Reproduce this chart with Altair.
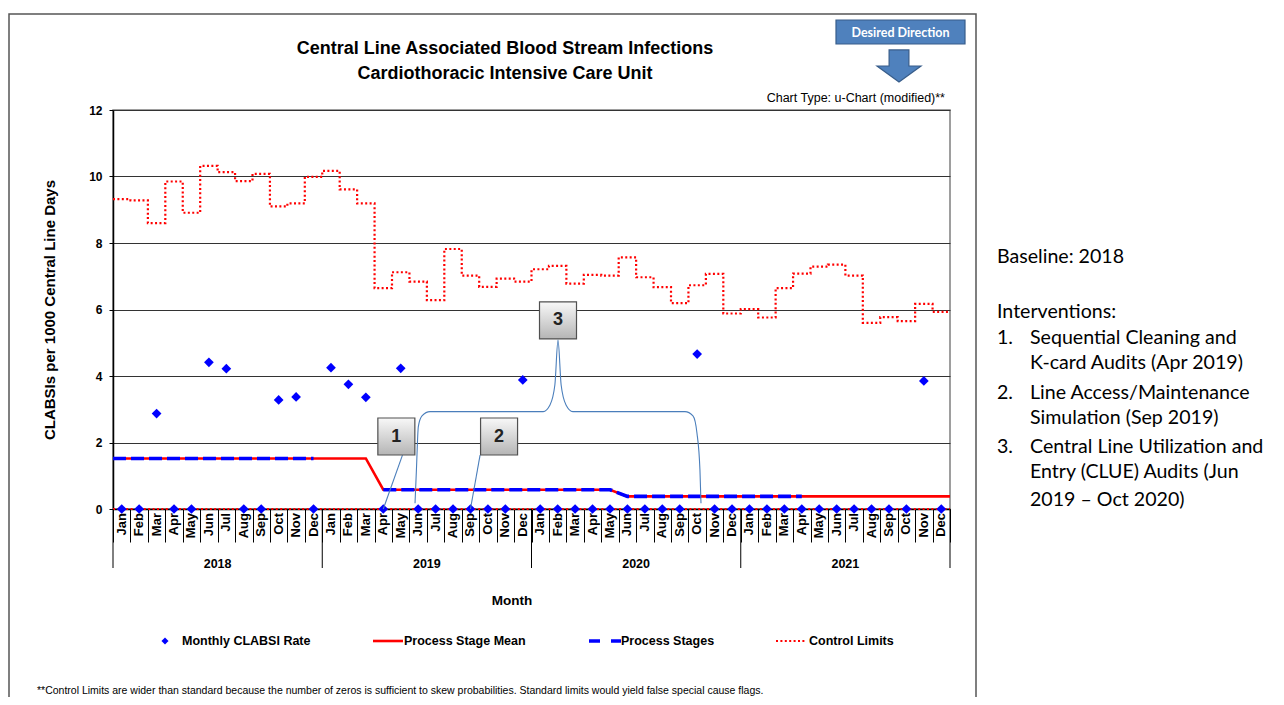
import altair as alt
import pandas as pd

# ---------------- data ----------------
month_names = ["Jan", "Feb", "Mar", "Apr", "May", "Jun",
               "Jul", "Aug", "Sep", "Oct", "Nov", "Dec"]
years = ["2018", "2019", "2020", "2021"]

clabsi_rate = [
    0, 0, 2.87, 0, 0, 4.41, 4.22, 0, 0, 3.28, 3.37, 0,
    4.25, 3.75, 3.36, 0, 4.23, 0, 0, 0, 0, 0, 0, 3.88,
    0, 0, 0, 0, 0, 0, 0, 0, 0, 4.66, 0, 0,
    0, 0, 0, 0, 0, 0, 0, 0, 0, 0, 3.85, 0,
]
control_limit = [
    9.32, 9.28, 8.60, 9.85, 8.91, 10.32, 10.13, 9.86, 10.08, 9.10, 9.19, 9.99,
    10.17, 9.61, 9.19, 6.64, 7.12, 6.84, 6.28, 7.82, 7.02, 6.68, 6.93, 6.84,
    7.21, 7.31, 6.78, 7.04, 7.02, 7.57, 6.97, 6.67, 6.19, 6.73, 7.07, 5.88,
    6.01, 5.76, 6.64, 7.08, 7.29, 7.35, 7.02, 5.60, 5.77, 5.65, 6.17, 5.93,
]
lower_control_limit = 0.0
stage_mean = [
    1.52, 1.52, 1.52, 1.52, 1.52, 1.52, 1.52, 1.52, 1.52, 1.52, 1.52, 1.52,
    1.52, 1.52, 1.52, 0.58, 0.58, 0.58, 0.58, 0.58, 0.58, 0.58, 0.58, 0.58,
    0.58, 0.58, 0.58, 0.58, 0.58, 0.38, 0.38, 0.38, 0.38, 0.38, 0.38, 0.38,
    0.38, 0.38, 0.38, 0.38, 0.38, 0.38, 0.38, 0.38, 0.38, 0.38, 0.38, 0.38,
]
process_stage = [
    1.52, 1.52, 1.52, 1.52, 1.52, 1.52, 1.52, 1.52, 1.52, 1.52, 1.52, 1.52,
    None, None, None, 0.58, 0.58, 0.58, 0.58, 0.58, 0.58, 0.58, 0.58, 0.58,
    0.58, 0.58, 0.58, 0.58, 0.58, 0.38, 0.38, 0.38, 0.38, 0.38, 0.38, 0.38,
    0.38, 0.38, 0.38, 0.38, None, None, None, None, None, None, None, None,
]

# call-out annotations (data units: month index, rate)
callout_labels = ["1", "2", "3"]
callout_x = [16.25, 22.14, 25.52]
callout_y = [2.18, 2.18, 5.67]
leader_id = [1, 1, 2, 2]
leader_x = [16.6, 15.5, 21.05, 20.5]
leader_y = [1.62, 0.0, 1.62, 0.0]
brace_x = [17.32, 17.40, 17.51, 17.72, 18.18, 24.67, 25.06, 25.34, 25.52,
           25.70, 25.98, 26.37, 32.80, 33.26, 33.49, 33.66, 33.72]
brace_y = [0.17, 1.17, 2.48, 2.80, 2.93, 2.93, 3.13, 3.73, 5.08,
           3.73, 3.13, 2.93, 2.93, 2.80, 2.28, 1.17, 0.17]

# texts
title_lines = ["Central Line Associated Blood Stream Infections",
               "Cardiothoracic Intensive Care Unit"]
chart_type_text = "Chart Type: u-Chart (modified)**"
direction_text = "Desired Direction"
y_title = "CLABSIs per 1000 Central Line Days"
x_title = "Month"
legend_labels = ["Monthly CLABSI Rate", "Process Stage Mean",
                 "Process Stages", "Control Limits"]
footnote = ("**Control Limits are wider than standard because the number of zeros is "
            "sufficient to skew probabilities. Standard limits would yield false special cause flags.")
side_baseline = "Baseline: 2018"
side_heading = "Interventions:"
side_numbers = ["1.", "2.", "3."]
side_items = [
    ["Sequential Cleaning and", "K-card Audits (Apr 2019)"],
    ["Line Access/Maintenance", "Simulation (Sep 2019)"],
    ["Central Line Utilization and", "Entry (CLUE) Audits (Jun", "2019 \u2013 Oct 2020)"],
]

# ---------------- tables ----------------
n = len(clabsi_rate)
months = [month_names[i % 12] for i in range(n)]
centers = [i + 0.5 for i in range(n)]

df_rate = pd.DataFrame({"x": centers, "rate": clabsi_rate, "month": months})
df_ucl = pd.DataFrame({"x": list(range(n)) + [n],
                       "v": control_limit + [control_limit[-1]]})
df_lcl = pd.DataFrame({"x": [0, n], "v": [lower_control_limit, lower_control_limit]})
df_mean = pd.DataFrame({"x": [0] + centers + [n],
                        "v": [stage_mean[0]] + stage_mean + [stage_mean[-1]]})
rows = []
seg = 0
prev = None
for i, v in enumerate(process_stage):
    if v is None:
        prev = None
        continue
    if prev is None:
        seg += 1
        if i == 0:
            rows.append({"x": 0, "v": v, "seg": seg})
    rows.append({"x": i + 0.5, "v": v, "seg": seg})
    prev = v
df_stage = pd.DataFrame(rows)
df_years = pd.DataFrame({"x": [12 * k + 6 for k in range(len(years))], "year": years})
df_ybounds = pd.DataFrame({"x": [12 * k for k in range(len(years) + 1)]})
df_callout = pd.DataFrame({"x": callout_x, "y": callout_y, "label": callout_labels})
df_leader = pd.DataFrame({"id": leader_id, "x": leader_x, "y": leader_y})
df_brace = pd.DataFrame({"x": brace_x, "y": brace_y, "o": list(range(len(brace_x)))})

# ---------------- layout ----------------
W, H = 837, 399
X0, Y0 = 113, 110          # page position of the plot origin
FONT = "Liberation Sans"
SIDE_FONT = "Lato"
RED = "#ff0000"
BLUE = "#0000ff"
LINK = "#4a7ebb"

xscale = alt.Scale(domain=[0, n], nice=False, zero=False)
yscale = alt.Scale(domain=[0, 12], nice=False)
xaxis = alt.Axis(values=list(range(n + 1)), labels=False, tickSize=33, tickColor="black",
                 tickWidth=1, domainColor="black", domainWidth=1.5, grid=False, title=None)
yaxis = alt.Axis(values=[0, 2, 4, 6, 8, 10, 12], grid=True, gridColor="#333333", gridWidth=1.2,
                 tickSize=4, tickColor="black", domainColor="black", domainWidth=1.5,
                 labelFont=FONT, labelFontSize=12, labelFontWeight="bold", labelColor="black",
                 labelPadding=7, format="d", title=None)


def X(field):
    return alt.X(field, type="quantitative", scale=xscale, axis=xaxis)


def Y(field):
    return alt.Y(field, type="quantitative", scale=yscale, axis=yaxis)


one = pd.DataFrame({"k": [0]})


def label(text, x, y, size, weight="normal", align="left", baseline="alphabetic",
          font=FONT, color="black", angle=None):
    kw = dict(text=text, align=align, baseline=baseline, fontSize=size,
              fontWeight=weight, font=font, color=color)
    if angle is not None:
        kw["angle"] = angle
    return alt.Chart(one).mark_text(**kw).encode(x=alt.value(x - X0), y=alt.value(y - Y0))


def rule(x1, x2, y1, y2, color, width, dash=None):
    kw = dict(color=color, strokeWidth=width)
    if dash is not None:
        kw["strokeDash"] = dash
    return alt.Chart(one).mark_rule(**kw).encode(
        x=alt.value(x1 - X0), x2=alt.value(x2 - X0), y=alt.value(y1 - Y0), y2=alt.value(y2 - Y0))


layers = []

# frame around the whole figure
layers.append(alt.Chart(one).mark_rect(fill="white", fillOpacity=0, stroke="#555555", strokeWidth=1.5).encode(
    x=alt.value(9 - X0), x2=alt.value(976 - X0), y=alt.value(14 - Y0), y2=alt.value(760 - Y0)))

# data layers
layers.append(alt.Chart(df_ucl).mark_line(interpolate="step-after", color=RED, strokeWidth=2.2,
                                          strokeDash=[2, 2.4]).encode(x=X("x"), y=Y("v")))
layers.append(alt.Chart(df_lcl).mark_line(color=RED, strokeWidth=2.2, strokeDash=[2, 2.4]).encode(
    x=X("x"), y=Y("v")))
layers.append(alt.Chart(df_mean).mark_line(color=RED, strokeWidth=2.6).encode(x=X("x"), y=Y("v")))
layers.append(alt.Chart(df_stage).mark_line(color=BLUE, strokeWidth=3.6, strokeDash=[13, 5]).encode(
    x=X("x"), y=Y("v"), detail="seg:N"))
layers.append(alt.Chart(df_rate).mark_point(shape="diamond", filled=True, size=95, color=BLUE,
                                            opacity=1).encode(x=X("x"), y=Y("rate")))

# call-outs
layers.append(alt.Chart(df_leader).mark_line(color=LINK, strokeWidth=1.1).encode(
    x=X("x"), y=Y("y"), detail="id:N"))
layers.append(alt.Chart(df_brace).mark_line(color=LINK, strokeWidth=1.1, interpolate="monotone").encode(
    x=X("x"), y=Y("y"), order="o:Q"))
box_fill = alt.LinearGradient(gradient="linear",
                              stops=[alt.GradientStop(color="#f8f8f8", offset=0),
                                     alt.GradientStop(color="#b5b5b5", offset=1)],
                              x1=0, x2=0, y1=0, y2=1)
layers.append(alt.Chart(df_callout).mark_point(shape="square", size=37 * 37, filled=True, fill="#9a9a9a",
                                               opacity=0.5, dx=2, dy=2).encode(x=X("x"), y=Y("y")))
layers.append(alt.Chart(df_callout).mark_point(shape="square", size=37 * 37, filled=True, fill=box_fill,
                                               stroke="#505050", strokeWidth=1.2, opacity=1).encode(
    x=X("x"), y=Y("y")))
layers.append(alt.Chart(df_callout).mark_text(font=FONT, fontSize=18, fontWeight="bold", color="#222222",
                                              baseline="middle").encode(x=X("x"), y=Y("y"), text="label:N"))

# month / year axis labels
layers.append(alt.Chart(df_rate).mark_text(font=FONT, fontSize=13, fontWeight="bold", angle=270,
                                           align="right", baseline="middle", color="black").encode(
    x=X("x"), y=alt.value(513 - Y0), text="month:N"))
layers.append(alt.Chart(df_ybounds).mark_rule(color="black", strokeWidth=1).encode(
    x=X("x"), y=alt.value(H), y2=alt.value(568 - Y0)))
layers.append(alt.Chart(df_years).mark_text(font=FONT, fontSize=12.5, fontWeight="bold", color="black").encode(
    x=X("x"), y=alt.value(564 - Y0), text="year:N"))

# titles
layers.append(label(title_lines[0], 505, 54, 18, "bold", "center"))
layers.append(label(title_lines[1], 505, 79, 18, "bold", "center"))
layers.append(label(chart_type_text, 945, 102, 12.5, "normal", "right"))
layers.append(label(y_title, 50, 310, 15, "bold", "center", "middle", angle=270))
layers.append(label(x_title, 512, 605, 13.5, "bold", "center"))

# desired direction marker
layers.append(alt.Chart(one).mark_rect(fill="#4f81bd", stroke="#385d8a", strokeWidth=1.2).encode(
    x=alt.value(836 - X0), x2=alt.value(965 - X0), y=alt.value(20 - Y0), y2=alt.value(44 - Y0)))
layers.append(label(direction_text, 900.5, 32.5, 12.5, "bold", "center", "middle", SIDE_FONT, "white"))
layers.append(alt.Chart(one).mark_point(shape="M-0.45,-0.73L0.45,-0.73L0.45,0L1,0L0,0.73L-1,0L-0.45,0Z",
                                        size=44 * 44, filled=True, fill="#4f81bd", stroke="#385d8a",
                                        strokeWidth=1.2, opacity=1).encode(
    x=alt.value(899 - X0), y=alt.value(66 - Y0)))

# legend
LY = 641
layers.append(alt.Chart(one).mark_point(shape="diamond", filled=True, size=50, color=BLUE, opacity=1).encode(
    x=alt.value(165 - X0), y=alt.value(LY - Y0)))
layers.append(rule(373, 403, LY, LY, RED, 2.6))
layers.append(rule(589, 621, LY, LY, BLUE, 3.6, [11, 11]))
layers.append(rule(776, 805, LY, LY, RED, 2.2, [2, 2.4]))
for txt, lx in zip(legend_labels, [182, 404, 621, 809]):
    layers.append(label(txt, lx, LY, 12.5, "bold", "left", "middle"))

# footnote
layers.append(label(footnote, 37, 694, 10.5, "normal", "left"))

# right-hand notes
SIDE_SIZE = 19.6
NUM_X, TXT_X = 997, 1030
layers.append(label(side_baseline, NUM_X, 263, SIDE_SIZE, "normal", "left", font=SIDE_FONT))
layers.append(label(side_heading, NUM_X, 318, SIDE_SIZE, "normal", "left", font=SIDE_FONT))
line_y = [[344, 369], [399, 424], [453, 478, 506]]
for num, lines, ys in zip(side_numbers, side_items, line_y):
    layers.append(label(num, NUM_X, ys[0], SIDE_SIZE, "normal", "left", font=SIDE_FONT))
    for t, yy in zip(lines, ys):
        layers.append(label(t, TXT_X, yy, SIDE_SIZE, "normal", "left", font=SIDE_FONT))

chart = alt.layer(*layers).properties(
    width=W, height=H,
    padding={"left": 105, "top": 102, "right": 326, "bottom": 188},
    autosize=alt.AutoSizeParams(type="none"),
    background="white",
).configure_view(stroke="#7f7f7f", strokeWidth=1.5)

chart.save("out.html", embed_options={"renderer": "svg", "actions": False})
